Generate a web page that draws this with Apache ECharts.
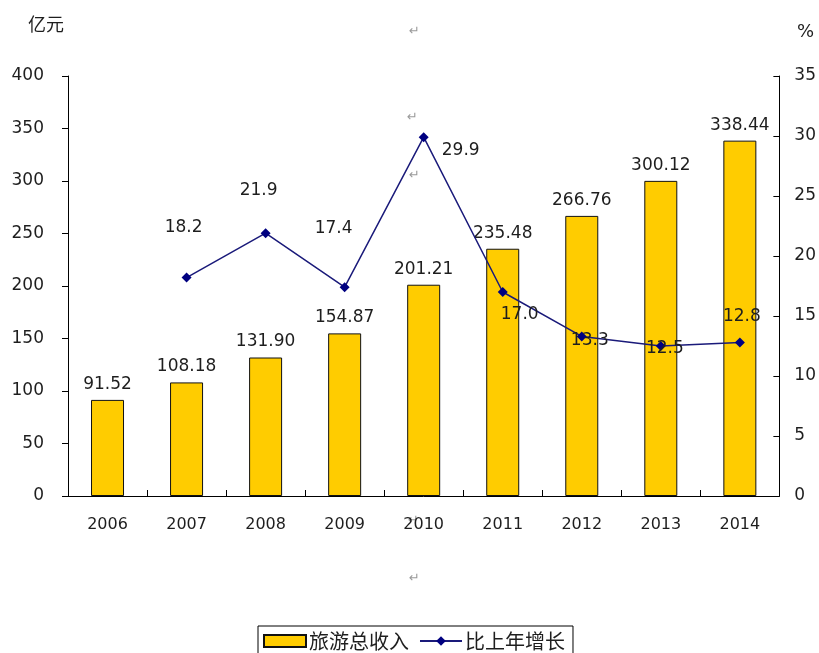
<!DOCTYPE html>
<html>
<head>
<meta charset="utf-8">
<script src="https://cdn.jsdelivr.net/npm/echarts@6/dist/echarts.min.js"></script>
<style>
html,body{margin:0;padding:0;background:#fff;}
#c{width:819px;height:653px;}
</style>
</head>
<body>
<div id="c"></div>
<script>
const categories = ['2006','2007','2008','2009','2010','2011','2012','2013','2014'];
const revenue = [91.52, 108.18, 131.90, 154.87, 201.21, 235.48, 266.76, 300.12, 338.44];
const revenueLabels = ['91.52','108.18','131.90','154.87','201.21','235.48','266.76','300.12','338.44'];
const growth = [null, 18.2, 21.9, 17.4, 29.9, 17.0, 13.3, 12.5, 12.8];
const growthLabels = ['', '18.2', '21.9', '17.4', '29.9', '17.0', '13.3', '12.5', '12.8'];
const leftTicks = [0, 400, 50];
const rightTicks = [0, 35, 5];

// label layout (offsets from each point), kept separate from data
const growthLabelOffsets = [[0,0],[-3,-50],[-7,-43],[-11,-59],[37,13],[17,23],[8,4],[4,3],[2,-26]];

const FONT = '"DejaVu Sans", "Noto Sans CJK SC", sans-serif';
const CJK = '"Noto Sans CJK SC", sans-serif';
const TXT = '#1e1e1e';

const chart = echarts.init(document.getElementById('c'), null, {renderer:'canvas'});

const lineData = growth.map((v, i) => ({
  value: v,
  label: {
    show: v !== null,
    position: 'inside',
    offset: growthLabelOffsets[i],
    formatter: () => growthLabels[i]
  }
}));

chart.setOption({
  backgroundColor: '#ffffff',
  animation: false,
  textStyle: {fontFamily: FONT},
  grid: {left: 68, right: 39, top: 76, bottom: 157},
  legend: {
    top: 626,
    left: 258,
    itemWidth: 42,
    itemHeight: 12,
    itemGap: 10,
    padding: [5, 8, 20, 5],
    borderColor: '#000',
    borderWidth: 1,
    textStyle: {fontFamily: CJK, fontSize: 20, color: TXT, padding: [0,0,0,-2]},
    data: [{name: '旅游总收入', icon: 'rect'}, {name: '比上年增长'}]
  },
  xAxis: {
    type: 'category',
    data: categories,
    axisLine: {lineStyle: {color: '#000', width: 1}},
    axisTick: {show: true, inside: true, length: 6, lineStyle: {color: '#000'}},
    axisLabel: {color: TXT, fontSize: 16, margin: 21, fontFamily: FONT},
    splitLine: {show: false}
  },
  yAxis: [
    {
      type: 'value',
      min: leftTicks[0], max: leftTicks[1], interval: leftTicks[2],
      axisLine: {show: true, lineStyle: {color: '#000', width: 1}},
      axisTick: {show: true, inside: false, length: 6, lineStyle: {color: '#000'}},
      axisLabel: {color: TXT, fontSize: 17, margin: 24, fontFamily: FONT},
      splitLine: {show: false}
    },
    {
      type: 'value',
      position: 'right',
      min: rightTicks[0], max: rightTicks[1], interval: rightTicks[2],
      axisLine: {show: true, lineStyle: {color: '#000', width: 1}},
      axisTick: {show: true, inside: true, length: 6, lineStyle: {color: '#000'}},
      axisLabel: {color: TXT, fontSize: 17, margin: 15, fontFamily: FONT},
      splitLine: {show: false}
    }
  ],
  series: [
    {
      name: '旅游总收入',
      type: 'bar',
      data: revenue,
      barWidth: 33,
      itemStyle: {color: '#FFCC00', borderColor: '#111', borderWidth: 1},
      label: {
        show: true, position: 'top', distance: 7,
        color: TXT, fontSize: 17, fontFamily: FONT,
        formatter: p => revenueLabels[p.dataIndex]
      },
      z: 2
    },
    {
      name: '比上年增长',
      type: 'line',
      yAxisIndex: 1,
      data: lineData,
      symbol: 'diamond',
      symbolSize: 10,
      showAllSymbol: true,
      lineStyle: {color: '#1a1a7a', width: 1.5},
      itemStyle: {color: '#000080'},
      label: {color: TXT, fontSize: 17, fontFamily: FONT},
      z: 3
    }
  ],
  graphic: [
    {type: 'text', left: 28, top: 15, style: {text: '亿元', font: '18px ' + CJK, fill: TXT}},
    {type: 'text', left: 797, top: 23, style: {text: '%', font: '18px ' + FONT, fill: TXT}},
    {type: 'text', left: 409, top: 25, style: {text: '↵', font: '13px "DejaVu Sans", sans-serif', fill: '#9a9a9a'}},
    {type: 'text', left: 407, top: 111, style: {text: '↵', font: '13px "DejaVu Sans", sans-serif', fill: '#9a9a9a'}},
    {type: 'text', left: 409, top: 169, style: {text: '↵', font: '13px "DejaVu Sans", sans-serif', fill: '#9a9a9a'}},
    {type: 'text', left: 408, top: 514, style: {text: '↵', font: '13px "DejaVu Sans", sans-serif', fill: '#9a9a9a'}},
    {type: 'text', left: 409, top: 572, style: {text: '↵', font: '13px "DejaVu Sans", sans-serif', fill: '#9a9a9a'}}
  ]
});
</script>
</body>
</html>
